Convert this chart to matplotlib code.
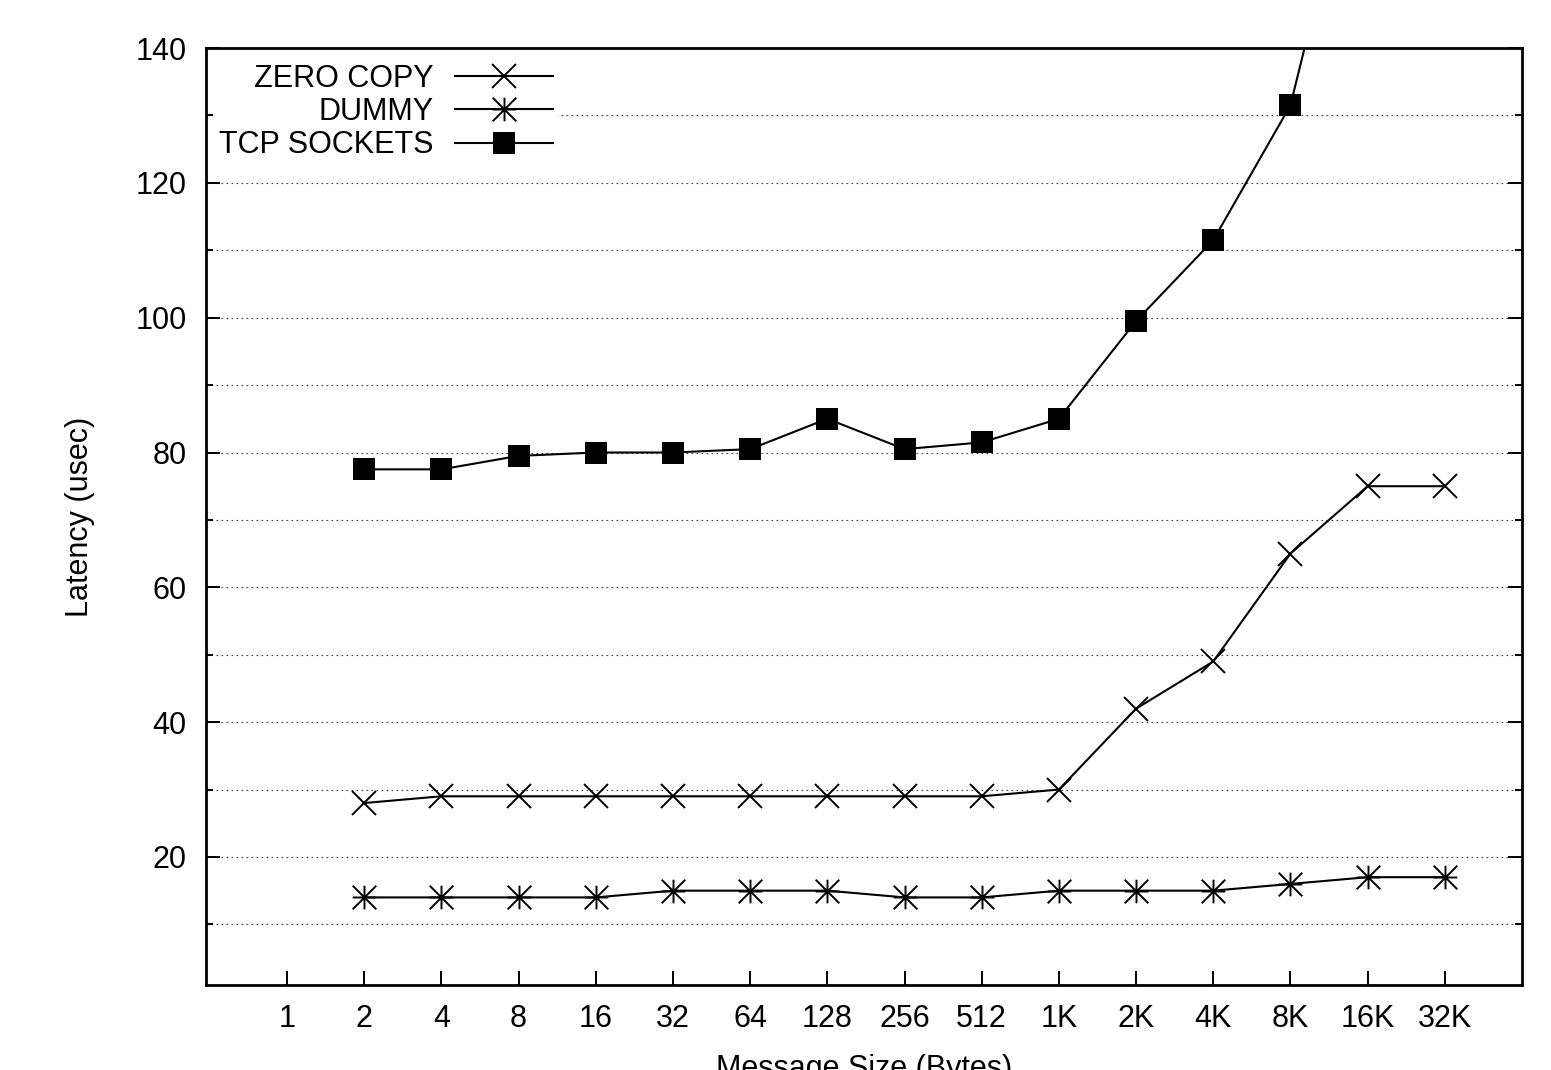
import numpy as np
import matplotlib
matplotlib.use("Agg")
import matplotlib.pyplot as plt
from matplotlib.path import Path

plt.rcParams['font.family'] = ['Liberation Sans', 'DejaVu Sans']

sizes = ["1", "2", "4", "8", "16", "32", "64", "128", "256", "512",
         "1K", "2K", "4K", "8K", "16K", "32K"]
zero_copy = [np.nan, 28, 29, 29, 29, 29, 29, 29, 29, 29, 30, 42, 49, 65, 75, 75]
dummy = [np.nan, 14, 14, 14, 14, 15, 15, 15, 14, 14, 15, 15, 15, 16, 17, 17]
tcp_sockets = [np.nan, 77.5, 77.5, 79.5, 80, 80, 80.5, 85, 80.5, 81.5, 85,
               99.5, 111.5, 131.5, 178, np.nan]
labels = ["ZERO COPY", "DUMMY", "TCP SOCKETS"]

star = Path([(-1, -1), (1, 1), (-1, 1), (1, -1), (0, -1), (0, 1), (-1, 0), (1, 0)],
            [Path.MOVETO, Path.LINETO] * 4)

fig = plt.figure(figsize=(15.51, 10.70), dpi=100)
ax = fig.add_axes([0.1328, 0.0794, 0.9813 - 0.1328, 0.9551 - 0.0794])

x = np.arange(len(sizes))
lw = 1.5
ax.plot(x, zero_copy, color='black', lw=lw, marker='x', ms=17, mew=1.4,
        label=labels[0], zorder=3)
ax.plot(x, dummy, color='black', lw=lw, marker=star, ms=17, mew=1.4,
        label=labels[1], zorder=3)
ax.plot(x, tcp_sockets, color='black', lw=lw, marker='s', ms=16, mew=0,
        mfc='black', label=labels[2], zorder=3)

ax.set_xlim(-1.05, 16.0)
ax.set_ylim(1, 140)
ax.set_xticks(x)
ax.set_xticklabels(sizes)
ax.set_yticks(np.arange(20, 141, 20))
ax.set_yticks(np.arange(10, 140, 20), minor=True)

fs = 22
ax.tick_params(axis='both', which='both', direction='in', labelsize=fs,
               colors='black', width=1.4)
ax.tick_params(axis='y', which='major', length=10, pad=14, right=True)
ax.tick_params(axis='y', which='minor', length=5, right=True)
ax.tick_params(axis='x', which='major', length=10, pad=14, top=False)

ax.grid(True, axis='y', which='both', color='#444444', lw=0.8,
        linestyle=(0, (1.5, 3)), zorder=1)
for s in ax.spines.values():
    s.set_linewidth(2.0)
    s.set_zorder(4)

ax.set_xlabel("Message Size (Bytes)", fontsize=fs, labelpad=14)
ax.set_ylabel("Latency (usec)", fontsize=fs, labelpad=29)

leg = ax.legend(loc='upper left', bbox_to_anchor=(0.004, 0.991), markerfirst=False,
                frameon=True, fontsize=fs, handlelength=3.2, handletextpad=0.72,
                labelspacing=0.1, borderaxespad=0.1, borderpad=0.15)
leg.get_frame().set_edgecolor('none')
leg.get_frame().set_facecolor('white')
leg.get_frame().set_alpha(1)
leg.get_frame().set_boxstyle('square', pad=0)
leg.set_zorder(5)

fig.savefig("out.png", dpi=100)
